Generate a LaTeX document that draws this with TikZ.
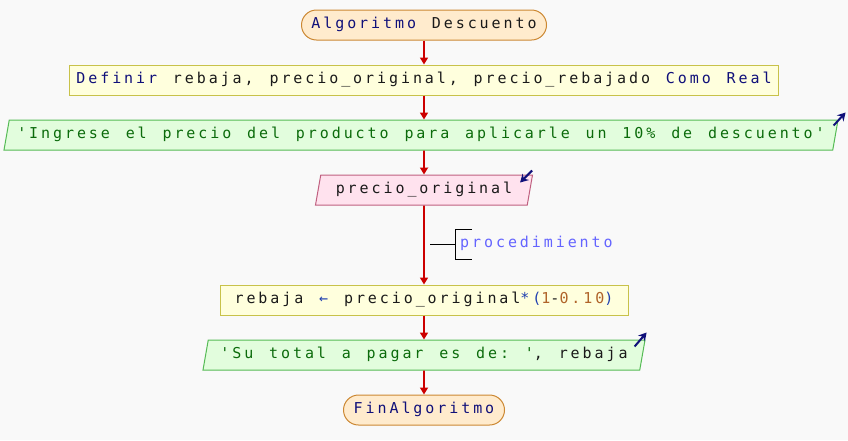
\documentclass[tikz,border=0pt]{standalone}
\usepackage{fontspec}
\setmonofont{DejaVu Sans Mono}[LetterSpace=19.5, WordSpace=1.323]
\usetikzlibrary{shapes.geometric, arrows.meta, positioning}
\definecolor{fondo}{HTML}{F9F9F9}
\definecolor{flecha}{HTML}{CC0000}
\definecolor{termfondo}{HTML}{FFEBCD}
\definecolor{termborde}{HTML}{CC8833}
\definecolor{accfondo}{HTML}{FFFFDD}
\definecolor{accborde}{HTML}{C8C24A}
\definecolor{salfondo}{HTML}{E2FDDD}
\definecolor{salborde}{HTML}{55BB55}
\definecolor{entfondo}{HTML}{FFE2EE}
\definecolor{entborde}{HTML}{C06080}
\definecolor{clave}{HTML}{10107A}
\definecolor{cadena}{HTML}{0B6B0B}
\definecolor{numero}{HTML}{B0642A}
\definecolor{operador}{HTML}{2040B0}
\definecolor{comentario}{HTML}{6464FF}
\definecolor{texto}{HTML}{1A1A1A}
\newcommand{\pkw}[1]{\textcolor{clave}{#1}}
\newcommand{\pstr}[1]{\textcolor{cadena}{#1}}
\newcommand{\pnum}[1]{\textcolor{numero}{#1}}
\newcommand{\pop}[1]{\textcolor{operador}{#1}}
\tikzset{
	flujo/.style={-{Triangle[width=8pt,length=7pt]}, draw=flecha, line width=1.6pt}, % Flechas entre bloques
	base/.style={minimum height=30pt, inner sep=0pt, text=texto, font=\ttfamily\fontsize{15}{17}\selectfont, text height=10pt, text depth=3pt}, % Propiedades comunes
	terminal/.style={base, rectangle, rounded corners=15pt, fill=termfondo, draw=termborde, line width=1pt}, % Inicio y fin
	accion/.style={base, rectangle, fill=accfondo, draw=accborde, line width=1pt}, % Definicion y asignacion
	paralelo/.style={base, trapezium, trapezium left angle=68, trapezium right angle=112, trapezium stretches body, line width=1pt},
	salida/.style={paralelo, fill=salfondo, draw=salborde}, % Escribir
	entrada/.style={paralelo, fill=entfondo, draw=entborde}, % Leer
	es/.style={-{Stealth[length=8pt,width=9pt]}, draw=clave, line width=2pt} % Flechita de entrada/salida
}

\begin{document}
\begin{tikzpicture}[x=1pt, y=-1pt]
	\useasboundingbox[fill=fondo] (0,0) rectangle (848,440);
	\node[terminal, minimum width=245pt] (ini) at (424,25) {\pkw{Algoritmo} Descuento};
	\node[accion, minimum width=709pt] (def) at (424,80) {\pkw{Definir} rebaja, precio\_original, precio\_rebajado \pkw{Como} \pkw{Real}};
	\node[salida, minimum width=834pt] (sal1) at (421,135) {\pstr{'Ingrese el precio del producto para aplicarle un 10\% de descuento'}};
	\node[entrada, minimum width=217pt] (ent) at (424,190) {precio\_original};
	\node[base, anchor=west, minimum height=0pt, text=comentario] (nota) at (460,244) {procedimiento};
	\node[accion, minimum width=408pt] (proc) at (424,300) {rebaja \pop{←} precio\_original\pop{*(}\pnum{1}-\pnum{0.10}\pop{)}};
	\node[salida, minimum width=442pt] (sal2) at (424,355) {\pstr{'Su total a pagar es de: '}, rebaja};
	\node[terminal, minimum width=161pt] (fin) at (424,410) {\pkw{FinAlgoritmo}};

	\draw[flujo] (ini) -- (def);
	\draw[flujo] (def.south) -- (def.south |- sal1.north);
	\draw[flujo] (def.south |- sal1.south) -- (ent.north);
	\draw[flujo] (ent) -- (proc);
	\draw[flujo] (proc) -- (sal2);
	\draw[flujo] (sal2) -- (fin);

	% corchete del comentario
	\draw[line width=1pt] ([xshift=12pt,yshift=15pt]nota.west) -- ([xshift=-5pt,yshift=15pt]nota.west)
		-- ([xshift=-5pt,yshift=-15pt]nota.west) -- ([xshift=12pt,yshift=-15pt]nota.west);
	\draw[line width=1pt] ([xshift=-5pt]nota.west) -- ++(-25,0);

	% flechitas de lectura y escritura
	\draw[es] ([xshift=-5pt,yshift=-6pt]sal1.top right corner) -- ++(12,-13);
	\draw[es] ([xshift=-1pt,yshift=4pt]ent.top right corner) -- ++(-12,12);
	\draw[es] ([xshift=-11pt,yshift=-7pt]sal2.top right corner) -- ++(12,-14);
\end{tikzpicture}
\end{document}
